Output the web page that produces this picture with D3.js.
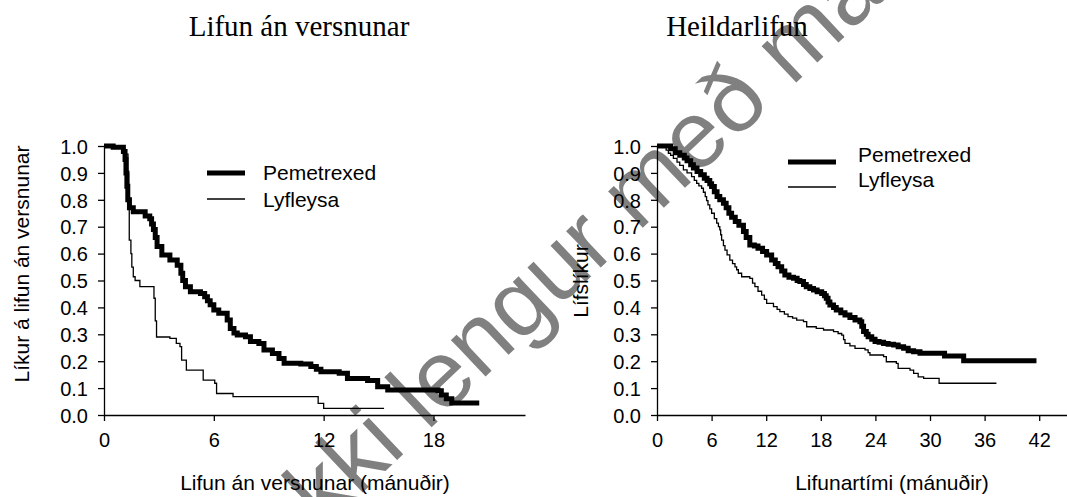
<!DOCTYPE html>
<html><head><meta charset="utf-8">
<script src="https://cdn.jsdelivr.net/npm/d3@7"></script>
<style>body{margin:0;background:#fff}</style></head><body>
<svg id="c" width="1067" height="497"></svg>
<script>
// ---- data ----
const yTicks = [0,0.1,0.2,0.3,0.4,0.5,0.6,0.7,0.8,0.9,1.0];
const pfsXTicks = [0,6,12,18];
const osXTicks = [0,6,12,18,24,30,36,42];
const seriesNames = ["Pemetrexed","Lyfleysa"];
const titles = ["Lifun án versnunar","Heildarlifun"];
const yLabels = ["Líkur á lifun án versnunar","Lífslíkur"];
const xLabels = ["Lifun án versnunar (mánuðir)","Lifunartími (mánuðir)"];
const watermark = "Lyfið er ekki lengur með markaðsleyfi";

const pfsPemT = [0,0.5,1.06,1.15,1.2,1.25,1.3,1.39,1.6,2.25,2.5,2.6,2.7,2.8,2.9,3.16,3.6,4.0,4.2,4.3,4.45,4.72,5.27,5.5,5.65,5.8,6.0,6.27,6.73,6.9,7.1,7.28,7.73,8.0,8.46,8.74,9.2,9.56,9.84,10.75,11.3,11.6,11.85,12.85,13.3,14.4,14.95,15.5,18.25,18.43,18.7,19.0,20.5];
const pfsPemS = [1.0,0.995,0.98,0.95,0.9,0.85,0.8,0.77,0.756,0.74,0.73,0.71,0.69,0.66,0.626,0.595,0.576,0.557,0.527,0.5,0.477,0.458,0.452,0.44,0.425,0.41,0.39,0.378,0.353,0.322,0.305,0.297,0.291,0.273,0.266,0.242,0.229,0.21,0.192,0.19,0.18,0.17,0.161,0.155,0.136,0.128,0.105,0.093,0.09,0.074,0.06,0.045,0.045];
const pfsPlaT = [0,0.7,1.0,1.2,1.31,1.35,1.38,1.47,1.52,1.6,1.7,1.96,2.73,2.8,2.87,3.6,3.95,4.15,4.24,4.5,5.42,6.05,6.15,7.05,11.7,12.0,15.3];
const pfsPlaS = [1.0,0.995,0.985,0.97,0.9,0.77,0.65,0.6,0.55,0.514,0.5,0.477,0.434,0.35,0.29,0.285,0.266,0.254,0.204,0.167,0.13,0.118,0.08,0.068,0.043,0.025,0.025];

const osPemT = [0,1.2,1.5,2.0,2.5,3.0,3.3,3.7,4.0,4.4,4.8,5.2,5.5,5.8,6.0,6.3,6.6,6.9,7.3,7.6,7.9,8.2,8.6,9.0,9.5,9.8,10.2,10.7,11.1,11.6,12.05,12.6,13.0,13.3,13.7,14.05,14.5,15.0,15.4,15.7,16.1,16.4,16.8,17.2,17.6,18.1,18.4,18.6,18.8,19.0,19.4,19.7,20.2,20.66,21.2,21.76,22.3,22.5,22.7,23.0,23.2,23.6,23.96,24.4,24.9,25.4,26.0,26.5,27.1,27.6,28.2,28.9,31.6,33.7,41.7];
const osPemS = [1.0,1.0,0.99,0.975,0.966,0.955,0.945,0.93,0.918,0.905,0.893,0.88,0.872,0.86,0.849,0.83,0.812,0.8,0.787,0.77,0.75,0.735,0.719,0.705,0.682,0.66,0.632,0.628,0.62,0.608,0.595,0.576,0.563,0.551,0.535,0.52,0.512,0.508,0.5,0.496,0.485,0.477,0.47,0.465,0.458,0.452,0.443,0.434,0.42,0.409,0.4,0.39,0.38,0.372,0.362,0.353,0.347,0.33,0.31,0.3,0.291,0.282,0.273,0.27,0.266,0.263,0.26,0.254,0.248,0.239,0.235,0.23,0.219,0.202,0.202];
const osPlaT = [0,0.7,1.0,1.25,1.5,1.8,2.2,2.5,2.9,3.3,3.8,4.1,4.36,4.6,4.9,5.1,5.3,5.45,5.6,5.8,6.0,6.3,6.56,6.75,6.9,7.0,7.1,7.3,7.47,7.7,8.0,8.3,8.57,8.75,8.94,9.3,10.2,10.5,10.76,11.1,11.5,11.8,12.05,12.8,13.2,13.5,14.0,14.4,14.9,15.35,16.1,16.45,17.5,18.3,19.4,19.9,20.3,20.5,20.66,21.2,21.76,22.86,23.2,23.4,24.9,25.2,26.3,26.5,27.8,28.2,28.7,29.3,31.0,37.3];
const osPlaS = [1.0,0.997,0.985,0.973,0.965,0.954,0.94,0.928,0.911,0.9,0.886,0.872,0.861,0.852,0.843,0.828,0.812,0.797,0.781,0.766,0.75,0.73,0.713,0.7,0.688,0.67,0.65,0.63,0.613,0.595,0.576,0.563,0.551,0.54,0.527,0.514,0.508,0.49,0.477,0.46,0.446,0.43,0.415,0.403,0.393,0.384,0.375,0.366,0.36,0.353,0.347,0.328,0.322,0.316,0.31,0.303,0.297,0.28,0.266,0.257,0.248,0.242,0.232,0.223,0.217,0.198,0.192,0.173,0.167,0.155,0.142,0.136,0.118,0.118];

// ---- drawing ----
const svg = d3.select("#c");
const SANS = "'Liberation Sans', Arial, sans-serif";
const SERIF = "'Liberation Serif', 'Times New Roman', serif";

// watermark (behind)
const wmG = svg.append("g");
const tmp = wmG.append("text").attr("font-family", SANS).attr("font-size", 95).text("Lyfið er ek");
const prefixW = tmp.node().getComputedTextLength();
tmp.remove();
wmG.append("text")
  .attr("font-family", SANS).attr("font-size", 95).attr("fill", "#808080")
  .attr("transform", "translate(358,497) rotate(-43.4)")
  .attr("x", -prefixW).attr("y", 0)
  .text(watermark);

const panels = [
  {x0:104, x1:525, dom:[0,23], ticks:pfsXTicks, title:titles[0], titleX:299, yl:yLabels[0], ylX:29, ylY:264, xl:xLabels[0], xlX:315,
   series:[{t:pfsPemT,s:pfsPemS,w:5},{t:pfsPlaT,s:pfsPlaS,w:1.3}],
   leg:{lx0:207, lx1:245, tx:263, ly:[173,199], ty:[180,207]}},
  {x0:657, x1:1066.5, dom:[0,45], ticks:osXTicks, title:titles[1], titleX:737, yl:yLabels[1], ylX:588, ylY:281, xl:xLabels[1], xlX:892,
   series:[{t:osPemT,s:osPemS,w:5},{t:osPlaT,s:osPlaS,w:1.3}],
   leg:{lx0:788, lx1:836, tx:858, ly:[162,187], ty:[162,187]}}
];

const y = d3.scaleLinear().domain([0,1]).range([415,146]);

panels.forEach(p => {
  const x = d3.scaleLinear().domain(p.dom).range([p.x0, p.x1]);
  const g = svg.append("g");

  g.append("text").attr("x", p.titleX).attr("y", 36).attr("text-anchor","middle")
    .attr("font-family", SERIF).attr("font-size", 29).attr("fill","#000").text(p.title);

  const ya = g.append("g").attr("transform", `translate(${p.x0},0)`)
    .call(d3.axisLeft(y).tickValues(yTicks).tickFormat(d3.format(".1f")).tickSize(6).tickSizeOuter(0));
  const xa = g.append("g").attr("transform", `translate(0,415)`)
    .call(d3.axisBottom(x).tickValues(p.ticks).tickFormat(d3.format("d")).tickSize(6).tickSizeOuter(0));
  [ya, xa].forEach(a => {
    a.selectAll("path,line").attr("stroke","#000").attr("stroke-width",1.3);
    a.selectAll("text").attr("font-family", SANS).attr("font-size", 20).attr("fill","#000");
  });
  ya.selectAll("text").attr("x", -16).attr("dy", "0.36em");
  xa.selectAll("text").attr("y", 32).attr("dy", 0);

  g.append("text").attr("transform", `translate(${p.ylX},${p.ylY}) rotate(-90)`)
    .attr("text-anchor","middle").attr("font-family", SANS).attr("font-size", 21).text(p.yl);
  g.append("text").attr("x", p.xlX).attr("y", 490).attr("text-anchor","middle")
    .attr("font-family", SANS).attr("font-size", 21).text(p.xl);

  const line = d3.line().x(d => x(d[0])).y(d => y(d[1])).curve(d3.curveStepAfter);
  p.series.forEach(s => {
    const pts = s.t.map((t,i) => [t, s.s[i]]);
    g.append("path").attr("d", line(pts)).attr("fill","none")
      .attr("stroke","#000").attr("stroke-width", s.w).attr("stroke-linejoin","miter");
  });

  p.series.forEach((s,i) => {
    g.append("line").attr("x1", p.leg.lx0).attr("x2", p.leg.lx1)
      .attr("y1", p.leg.ly[i]).attr("y2", p.leg.ly[i]).attr("stroke","#000").attr("stroke-width", s.w);
    g.append("text").attr("x", p.leg.tx).attr("y", p.leg.ty[i])
      .attr("font-family", SANS).attr("font-size", 21).text(seriesNames[i]);
  });
});
</script>
</body></html>
